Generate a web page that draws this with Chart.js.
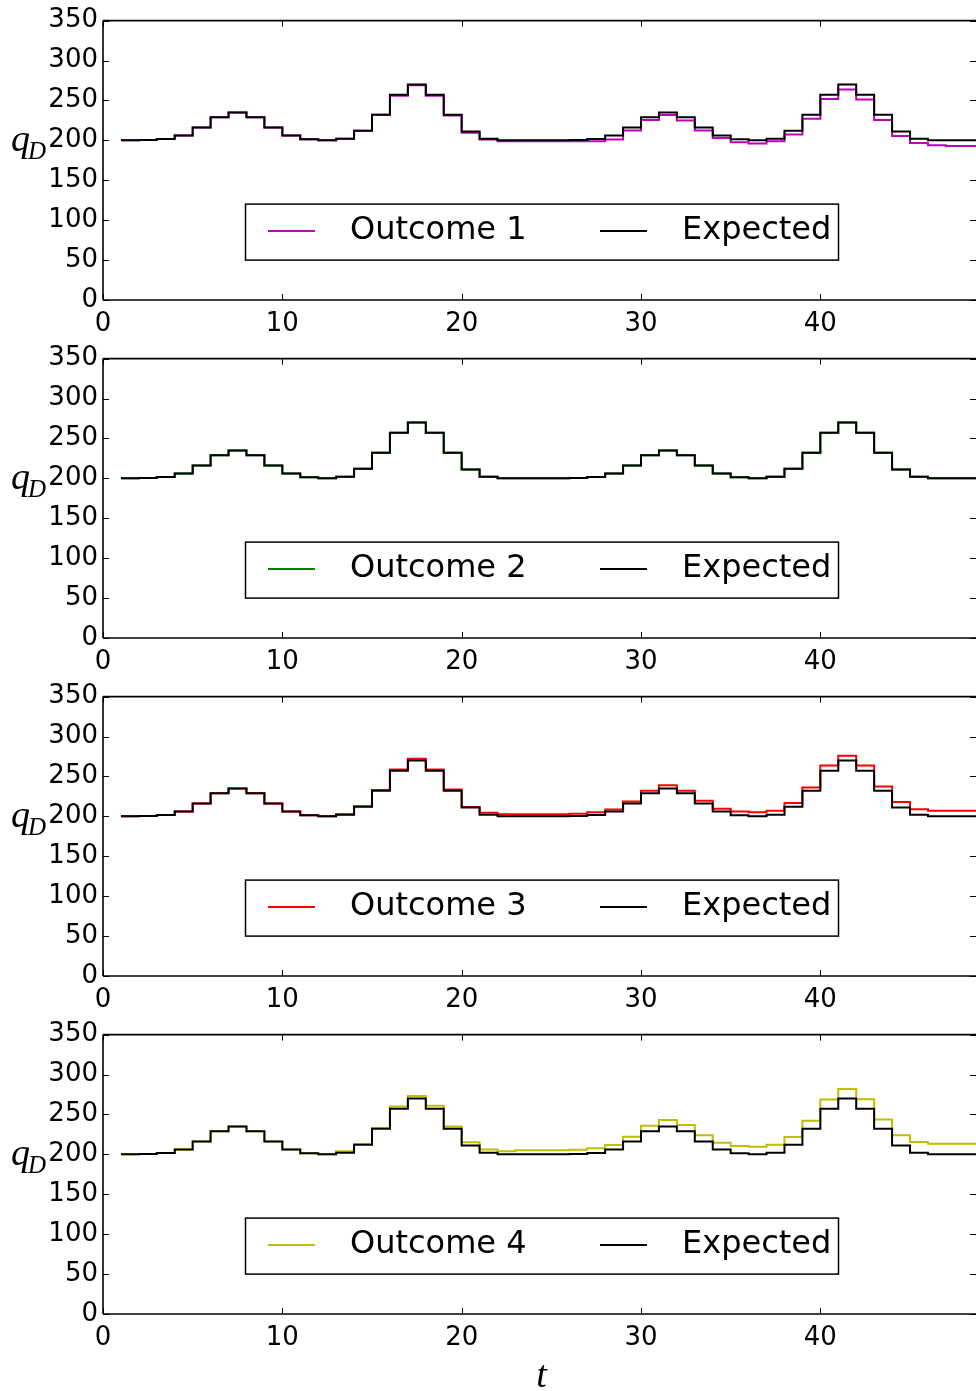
<!DOCTYPE html>
<html>
<head>
<meta charset="utf-8">
<script src="https://cdn.jsdelivr.net/npm/chart.js@4.4.0/dist/chart.umd.min.js"></script>
<style>
  html, body { margin: 0; padding: 0; background: #fff; overflow: hidden; }
  #wrap { position: relative; width: 976px; height: 1391px; }
  .panel { position: absolute; left: 0; width: 976px; }
</style>
</head>
<body>
<div id="wrap">
  <div class="panel" style="top:0;height:338px"><canvas id="c1"></canvas></div>
  <div class="panel" style="top:338px;height:338px"><canvas id="c2"></canvas></div>
  <div class="panel" style="top:676px;height:338px"><canvas id="c3"></canvas></div>
  <div class="panel" style="top:1014px;height:377px"><canvas id="c4"></canvas></div>
</div>
<script>
// hour index (step starts), last point only closes the final step
const hours = [1,2,3,4,5,6,7,8,9,10,11,12,13,14,15,16,17,18,19,20,21,22,23,24,
               25,26,27,28,29,30,31,32,33,34,35,36,37,38,39,40,41,42,43,44,45,46,47,48,49];

const expected = [200,200.4,201.7,206,216,229,235,229,216,206,201.3,200,202,212,232,257,270,257,232,211,202,200.2,200,200,
                  200,200.4,201.7,206,216,229,235,229,216,206,201.3,200,202,212,232,257,270,257,232,211,202,200.2,200,200,200];

const outcome1 = [200,200.4,201.7,206,216,229,235,229,216,206,201.3,200,202,212,232,256,269,256,231,209.5,201,199,198.8,198.8,
                  198.8,198.8,199,201,212.4,225.6,231.8,224.8,212.4,203,197.5,195.9,198.8,207.4,226.9,251.7,263.6,251.2,225.6,205.4,196.7,193.8,193,193,193];

const outcome2 = [200,200.4,201.7,206,216,229,235,229,216,206,201.3,200,202,212,232,257,270,257,232,211,202,200.2,200,200,
                  200,200.4,201.7,206,216,229,235,229,216,206,201.3,200,202,212,232,257,270,257,232,211,202,200.2,200,200,200];

const outcome3 = [200,200.4,201.7,206,216,229,235,229,216,206,201.3,200,202.5,212.5,233,258.7,272,258.7,233.7,211.7,204.6,202.5,202.5,202.5,
                  202.5,203.3,205,208.7,218.7,232,239,232,219.6,209.6,206,205,207,216.7,236,263.7,275.8,263.7,237.5,218,209,207,207,207,207];

const outcome4 = [200,200.4,201.7,206,216,229,235,229,216,206,201.3,200,204,213,233,260,273,261,235,215,206,204,205,205,
                  205,205.8,207.5,211.7,222,235.8,243,236.7,224,214.6,210.4,209.6,212,221.7,242,268.7,282,269,243.7,224,215.4,213.3,213.3,213.3,213.3];

const outcomes = [outcome1, outcome2, outcome3, outcome4];
const outcomeNames = ['Outcome 1', 'Outcome 2', 'Outcome 3', 'Outcome 4'];
const outcomeColors = ['#bf00bf', '#008000', '#ff0000', '#bfbf00'];

const xTicks = [0, 10, 20, 30, 40];
const yTicks = [0, 50, 100, 150, 200, 250, 300, 350];
const X_MAX = 48.68;

Chart.defaults.font.family = "'DejaVu Sans', sans-serif";
Chart.defaults.color = '#000';

// frame, inward ticks, legend box and axis labels
const framePlugin = {
  id: 'frame',
  afterDraw(chart, args, opts) {
    const { ctx, chartArea: a, scales: { x, y } } = chart;
    const seg = (x1, y1, x2, y2) => { ctx.beginPath(); ctx.moveTo(x1, y1); ctx.lineTo(x2, y2); ctx.stroke(); };
    ctx.save();
    ctx.strokeStyle = '#000';
    ctx.lineWidth = 1.6;
    seg(a.left, a.top, a.right, a.top);
    seg(a.left, a.bottom, a.right, a.bottom);
    seg(a.left, a.top, a.left, a.bottom);
    ctx.lineWidth = 1;
    xTicks.forEach(v => {
      const px = Math.round(x.getPixelForValue(v)) + 0.5;
      seg(px, a.bottom, px, a.bottom - 6);
      seg(px, a.top, px, a.top + 6);
    });
    yTicks.forEach(v => {
      const py = Math.round(y.getPixelForValue(v)) + 0.5;
      seg(a.left, py, a.left + 6, py);
      seg(a.right, py, a.right - 6, py);
    });

    // legend
    const lx = 245.5, ly = a.top + 183.5, lw = 593, lh = 56;
    ctx.fillStyle = '#fff';
    ctx.fillRect(lx, ly, lw, lh);
    ctx.lineWidth = 1.5;
    ctx.strokeRect(lx, ly, lw, lh);
    const my = ly + 27;
    ctx.lineWidth = 2;
    ctx.strokeStyle = opts.color;
    seg(268, my, 315, my);
    ctx.strokeStyle = '#000';
    seg(600, my, 647, my);
    ctx.fillStyle = '#000';
    ctx.font = "32px 'DejaVu Sans'";
    ctx.textBaseline = 'middle';
    ctx.textAlign = 'left';
    ctx.fillText(opts.name, 350, my);
    ctx.fillText('Expected', 682, my);

    // y label q_D
    ctx.font = "italic 38px 'Liberation Serif'";
    ctx.textBaseline = 'alphabetic';
    ctx.fillText('q', 11, a.top + 130);
    ctx.font = "italic 25px 'Liberation Serif'";
    ctx.fillText('D', 28, a.top + 138);

    if (opts.last) {
      ctx.font = "italic 38px 'Liberation Serif'";
      ctx.textAlign = 'center';
      ctx.fillText('t', (a.left + 976) / 2 + 2, a.bottom + 73);
    }
    ctx.restore();
  }
};

function makeChart(id, idx) {
  const last = idx === 3;
  return new Chart(document.getElementById(id), {
    type: 'line',
    data: {
      datasets: [
        { label: outcomeNames[idx], data: hours.map((h, i) => ({ x: h, y: outcomes[idx][i] })),
          borderColor: outcomeColors[idx], borderWidth: 2, stepped: true, pointRadius: 0, fill: false, order: 1 },
        { label: 'Expected', data: hours.map((h, i) => ({ x: h, y: expected[i] })),
          borderColor: '#000', borderWidth: 2, stepped: true, pointRadius: 0, fill: false, order: 0 }
      ]
    },
    options: {
      responsive: true, maintainAspectRatio: false, animation: false,
      layout: { padding: { top: 18, right: 0, left: 0, bottom: 0 } },
      plugins: {
        legend: { display: false }, tooltip: { enabled: false },
        frame: { name: outcomeNames[idx], color: outcomeColors[idx], last: last }
      },
      scales: {
        x: {
          type: 'linear', min: 0, max: X_MAX,
          grid: { display: false, drawTicks: false }, border: { display: false },
          afterBuildTicks: s => { s.ticks = xTicks.map(v => ({ value: v })); },
          afterFit: s => { s.height = last ? 77 : 38; },
          ticks: { font: { size: 26 }, padding: 9, maxRotation: 0, autoSkip: false, color: '#000' }
        },
        y: {
          min: 0, max: 350,
          grid: { display: false, drawTicks: false }, border: { display: false },
          afterBuildTicks: s => { s.ticks = yTicks.map(v => ({ value: v })); },
          afterFit: s => { s.width = 103; },
          ticks: { font: { size: 26 }, padding: 5, color: '#000' }
        }
      }
    },
    plugins: [framePlugin]
  });
}

['c1', 'c2', 'c3', 'c4'].forEach((id, i) => makeChart(id, i));
</script>
</body>
</html>
